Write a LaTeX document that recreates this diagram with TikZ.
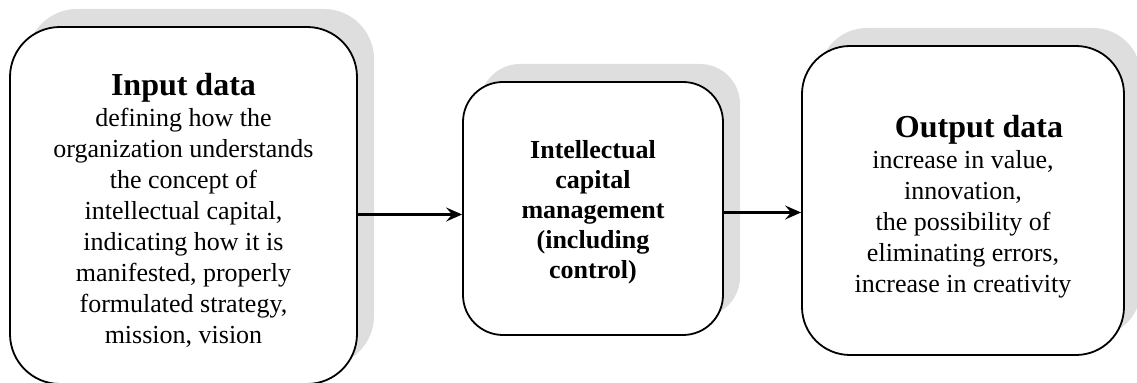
\documentclass[tikz,border=0pt]{standalone}
\usepackage{fontspec}
\setmainfont{Liberation Serif}
\usetikzlibrary{arrows.meta,shadows}

\begin{document}
\begin{tikzpicture}[x=0.5pt,y=-0.5pt,
    >={Stealth[length=8pt,width=7pt,inset=3pt]},
    block/.style={rectangle,
        draw,
        line width=0.9pt,
        fill=white,
        inner sep=0pt,
        drop shadow={shadow xshift=8.5pt,shadow yshift=9pt,fill=black!13,opacity=1}},
    blocktext/.style={align=center,
        inner sep=0pt,
        font=\fontsize{13}{15.5}\selectfont},
    link/.style={->,line width=1.1pt}]

  \useasboundingbox (0,0) rectangle (1137,383);

  % input data
  \node[block,
        rounded corners=25pt,
        minimum width = 173.5pt, 
        minimum height = 178.5pt
        ] (inp) at (183.5,205.5) {};
  \node[blocktext] (inptext) at ([yshift=-2.5pt]inp.center)
    {{\fontsize{16}{18}\selectfont\bfseries Input data}\\
     defining how the\\
     organization understands\\
     the concept of\\
     intellectual capital,\\
     indicating how it is\\
     manifested, properly\\
     formulated strategy,\\
     mission, vision};

  % management
  \node[block,
        rounded corners=20pt,
        minimum width = 130pt, 
        minimum height = 126.5pt
        ] (mgmt) at (593,208.5) {};
  \node[blocktext,
        font=\fontsize{13}{15}\selectfont\bfseries
        ] (mgmttext) at ([yshift=-2pt]mgmt.center)
    {Intellectual\\
     capital\\
     management\\
     (including\\
     control)};

  % output data
  \node[block,
        rounded corners=24pt,
        minimum width = 161pt, 
        minimum height = 154.5pt
        ] (outp) at (963,200.5) {};
  \node[blocktext] (outptext) at ([yshift=-3pt]outp.center)
    {\hspace*{16pt}{\fontsize{16}{18}\selectfont\bfseries Output data}\\
     increase in value,\\
     innovation,\\
     the possibility of\\
     eliminating errors,\\
     increase in creativity};

  \draw[link] ([yshift=-4.5pt]inp.east) -- ([yshift=-4.5pt]inp.east -| mgmt.west);
  \draw[link] ([yshift=-2pt]mgmt.east) -- ([yshift=-2pt]mgmt.east -| outp.west);

\end{tikzpicture}
\end{document}
